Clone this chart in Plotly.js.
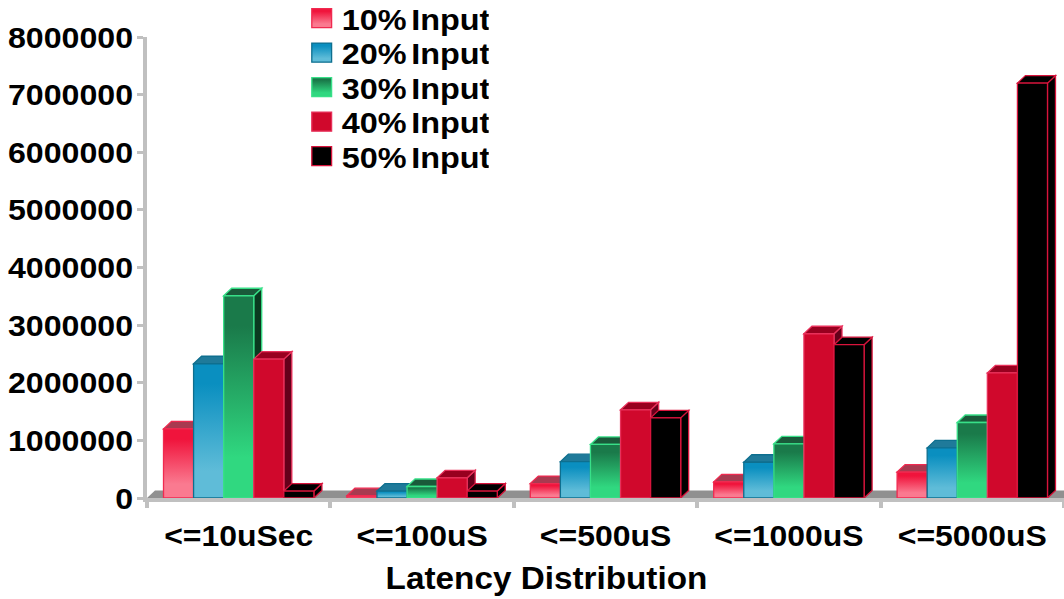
<!DOCTYPE html>
<html><head><meta charset="utf-8">
<script src="https://cdn.plot.ly/plotly-3.0.1.min.js"></script>
<style>html,body{margin:0;padding:0;background:#fff}</style></head>
<body><div id="chart" style="width:1064px;height:599px"></div>
<script>
const categories = ["<=10uSec","<=100uS","<=500uS","<=1000uS","<=5000uS"];
const input10 = [1200000, 40000, 250000, 280000, 450000];
const input20 = [2330000, 120000, 630000, 620000, 870000];
const input30 = [3510000, 200000, 930000, 940000, 1310000];
const input40 = [2410000, 350000, 1530000, 2850000, 2170000];
const input50 = [120000, 120000, 1390000, 2660000, 7200000];
const seriesNames = ["10% Input","20% Input","30% Input","40% Input","50% Input"];
const seriesValues = [input10,input20,input30,input40,input50];
const yTicks = [0,1000000,2000000,3000000,4000000,5000000,6000000,7000000,8000000];
const frontTop = ["#f0143c","#0a8fc0","#1a7a4a","#d0082c","#000000"];
const frontBottom = ["#fa7a90","#5fbcd8","#30d880","#d0082c","#000000"];
const borders = ["#f02a50","#0e6f8f","#38e088","#e8305a","#d8143c"];
const tops = ["#a83a50","#1f7a9a","#1a5a3a","#98001f","#000000"];
const sides = ["#8a0f28","#0a4a60","#0a3a20","#65001a","#000000"];
const depthX = 8, depthY = 7.5, plotW = 917, plotH = 461, bargap = 0.18;
const barW = plotW/5*(1-bargap)/5;

const shapes = [];
shapes.push({type:'path',layer:'below',xref:'paper',yref:'paper',xsizemode:'pixel',ysizemode:'pixel',
  xanchor:0,yanchor:0,path:`M0,0L${depthX},${depthY}L${plotW},${depthY}L${plotW},0Z`,fillcolor:'#909090',line:{width:0}});
seriesValues.forEach((vals,s)=>{
  vals.forEach((v,c)=>{
    const l = -2.5*barW + s*barW, r = l+barW, h = v*plotH/8000000;
    const base = {type:'path',layer:'below',xref:'x',yref:'y',xsizemode:'pixel',ysizemode:'pixel',
      xanchor:categories[c],yanchor:v};
    shapes.push(Object.assign({},base,{path:`M${r},0L${r+depthX},${depthY}L${r+depthX},${depthY-h}L${r},${-h}Z`,
      fillcolor:sides[s],line:{color:borders[s],width:1.3}}));
    shapes.push(Object.assign({},base,{path:`M${l},0L${l+depthX},${depthY}L${r+depthX},${depthY}L${r},0Z`,
      fillcolor:tops[s],line:{color:borders[s],width:1.3}}));
  });
});
const traces = seriesValues.map((vals,s)=>({type:'bar',name:seriesNames[s],x:categories,y:vals,
  marker:{color:frontTop[s],line:{color:borders[s],width:1.3}}}));
const layout = {
  width:1064,height:599,paper_bgcolor:'#fff',plot_bgcolor:'#fff',barmode:'group',bargap:bargap,bargroupgap:0,
  margin:{l:147,r:0,t:37,b:101,pad:0,autoexpand:false},
  font:{family:'"Liberation Sans",Arial,sans-serif',color:'#000',size:30},
  showlegend:true,
  legend:{x:0.1687,y:1.08,xanchor:'left',yanchor:'top',bgcolor:'rgba(0,0,0,0)',borderwidth:0,traceorder:'normal',
    font:{size:30,weight:700,family:'"Liberation Sans",Arial,sans-serif',color:'#000'}},
  xaxis:{type:'category',categories:categories,range:[-0.5,4.5],tickson:'boundaries',ticks:'outside',ticklen:6,tickwidth:4,tickcolor:'#c0c0c0',
    showline:true,linecolor:'#c0c0c0',linewidth:4,showgrid:false,zeroline:false,ticklabelstandoff:8,
    tickfont:{size:30,weight:700},title:{text:'Latency Distribution',font:{size:32,weight:700},standoff:10}},
  yaxis:{range:[0,8000000],tickvals:yTicks,ticktext:yTicks.map(String),ticks:'outside',ticklen:6,tickwidth:3,tickcolor:'#c0c0c0',
    showline:true,linecolor:'#c0c0c0',linewidth:4,showgrid:false,zeroline:false,ticklabelstandoff:-2,
    tickfont:{size:30,weight:700}},
  shapes:shapes
};
Plotly.newPlot('chart',traces,layout,{displayModeBar:false,staticPlot:true}).then(gd=>{
  const svg = gd.querySelector('svg.main-svg');
  const ns='http://www.w3.org/2000/svg';
  const defs = document.createElementNS(ns,'defs');
  svg.insertBefore(defs,svg.firstChild);
  frontTop.forEach((c,s)=>{
    const g=document.createElementNS(ns,'linearGradient');
    g.setAttribute('id','grad'+s);g.setAttribute('x1','0');g.setAttribute('y1','0');g.setAttribute('x2','0');g.setAttribute('y2','1');
    [[0.15,c],[0.8,frontBottom[s]]].forEach(([o,col])=>{
      const st=document.createElementNS(ns,'stop');st.setAttribute('offset',o);st.setAttribute('stop-color',col);g.appendChild(st);
    });
    defs.appendChild(g);
  });
  gd.querySelectorAll('.barlayer .trace').forEach((t,s)=>{
    t.querySelectorAll('.point path').forEach(p=>{p.style.fill='url(#grad'+s+')';});
  });
  const stretch=(el,f)=>{const w=el.getComputedTextLength();el.setAttribute('textLength',w*f);el.setAttribute('lengthAdjust','spacingAndGlyphs');};
  gd.querySelectorAll('.ytick text').forEach(t=>stretch(t,1.07));
  gd.querySelectorAll('.xtick text').forEach(t=>stretch(t,1.064));
  gd.querySelectorAll('.xtitle').forEach(t=>{
    stretch(t,1.04);
    t.setAttribute('x',parseFloat(t.getAttribute('x'))-59);
    t.setAttribute('y',parseFloat(t.getAttribute('y'))+7);
  });
  gd.querySelectorAll('.legend .traces').forEach((t,s)=>{
    t.setAttribute('transform','translate(0,'+(18+34.5*s)+')');
    t.querySelectorAll('.legendtext').forEach(x=>{x.style.wordSpacing='-4px';stretch(x,1.08);});
    t.querySelectorAll('.legendpoints path').forEach(p=>{
      p.style.fill='url(#grad'+s+')';
      p.setAttribute('transform','translate(20,0) scale(1.65,1.6)');
      p.style.strokeWidth='0.8px';
    });
  });
});
</script></body></html>
